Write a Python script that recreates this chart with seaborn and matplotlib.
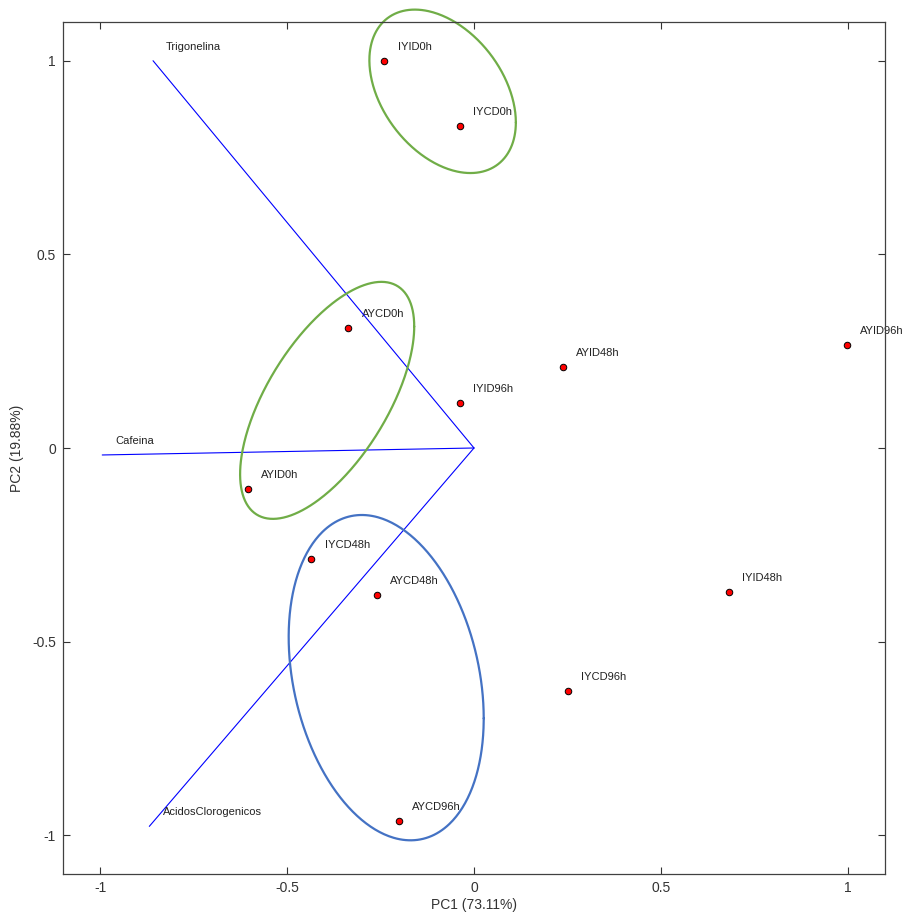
import numpy as np
import pandas as pd
import matplotlib
matplotlib.use("Agg")
import matplotlib.pyplot as plt
import seaborn as sns

# ---- data ----
samples = ["IYID0h", "IYCD0h", "AYCD0h", "AYID48h", "AYID96h", "IYID96h",
           "AYID0h", "IYCD48h", "AYCD48h", "IYID48h", "IYCD96h", "AYCD96h"]
pc1 = [-0.240, -0.037, -0.336, 0.237, 0.997, -0.037,
       -0.605, -0.435, -0.259, 0.683, 0.251, -0.200]
pc2 = [1.000, 0.832, 0.310, 0.209, 0.266, 0.116,
       -0.106, -0.287, -0.380, -0.372, -0.628, -0.964]

variables = ["Trigonelina", "Cafeina", "AcidosClorogenicos"]
load1 = [-0.859, -0.995, -0.869]
load2 = [1.000, -0.018, -0.977]

# group ellipses: centre, half-width, half-height, correlation
ell_cx = [-0.084, -0.393, -0.235]
ell_cy = [0.921, 0.123, -0.593]
ell_hw = [0.196, 0.233, 0.261]
ell_hh = [0.211, 0.306, 0.420]
ell_rho = [-0.38, 0.623, -0.25]
ell_col = ["#70AD47", "#70AD47", "#4472C4"]

xticks = [-1, -0.5, 0, 0.5, 1]
yticks = [-1, -0.5, 0, 0.5, 1]
xlabel = "PC1 (73.11%)"
ylabel = "PC2 (19.88%)"

# ---- style ----
sns.set_style("ticks")
plt.rcParams["font.family"] = ["Liberation Sans", "DejaVu Sans"]

fig = plt.figure(figsize=(9.09, 9.15), dpi=100)
ax = fig.add_axes([63 / 909, 1 - 874 / 915, 822 / 909, 852 / 915])

# loading vectors
for v, x, y in zip(variables, load1, load2):
    ax.plot([0, x], [0, y], color="#0000FF", lw=0.8, zorder=2)
    ax.annotate(v, (x, y), xytext=(9.5, 8), textcoords="offset points",
                ha="left", va="baseline", fontsize=8, color="#222222",
                annotation_clip=False)

# ellipses
t = np.linspace(0, 2 * np.pi, 400)
for cx, cy, hw, hh, rho, c in zip(ell_cx, ell_cy, ell_hw, ell_hh, ell_rho, ell_col):
    ex = cx + hw * np.cos(t)
    ey = cy + hh * (rho * np.cos(t) + np.sqrt(1 - rho ** 2) * np.sin(t))
    ax.plot(ex, ey, color=c, lw=1.6, zorder=3, clip_on=False)

# scores
df = pd.DataFrame({"PC1": pc1, "PC2": pc2, "sample": samples})
sns.scatterplot(data=df, x="PC1", y="PC2", ax=ax, color="#FF0000",
                edgecolor="black", linewidth=0.7, s=22, zorder=4)
for s, x, y in zip(samples, pc1, pc2):
    ax.annotate(s, (x, y), xytext=(9.5, 8), textcoords="offset points",
                ha="left", va="baseline", fontsize=8, color="#222222",
                annotation_clip=False, zorder=1)

ax.set_xlim(-1.1, 1.1)
ax.set_ylim(-1.1, 1.1)
ax.set_xticks(xticks)
ax.set_yticks(yticks)
ax.set_xticklabels([f"{v:g}" for v in xticks])
ax.set_yticklabels([f"{v:g}" for v in yticks])
ax.tick_params(direction="in", length=5, width=0.8, top=True, right=True,
               labelsize=10, colors="#333333", pad=5)
for sp in ax.spines.values():
    sp.set_visible(True)
    sp.set_color("#404040")
    sp.set_linewidth(0.9)
    sp.set_zorder(6)
ax.set_xlabel(xlabel, fontsize=10, color="#333333", labelpad=2)
ax.set_ylabel(ylabel, fontsize=10, color="#333333", labelpad=6)
ax.grid(False)

fig.savefig("out.png", dpi=100)
